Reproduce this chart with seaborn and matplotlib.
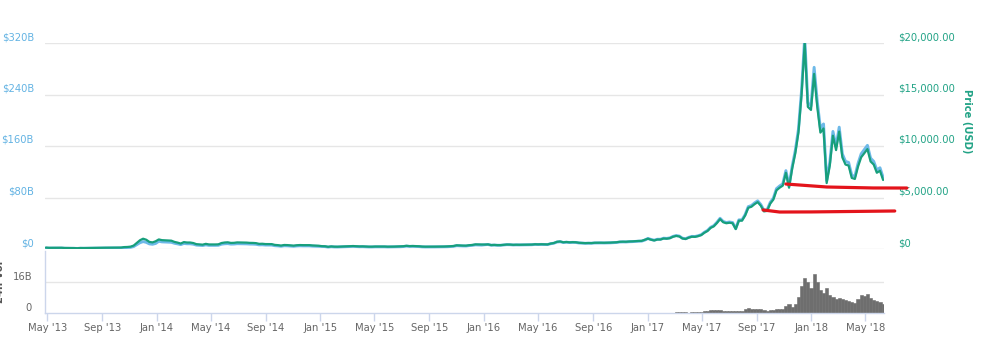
import numpy as np
import pandas as pd
import matplotlib
matplotlib.use("Agg")
import matplotlib.pyplot as plt
import matplotlib.dates as mdates
from matplotlib.transforms import ScaledTranslation, blended_transform_factory
import seaborn as sns

# ---------------- data (weekly, starting 2013-04-28) ----------------
start_date = "2013-04-28"

price_2013 = [135, 115, 117, 123, 131, 120, 100, 100, 102, 90, 75, 97, 92, 98,
              105, 106, 119, 125, 127, 126, 128, 125, 133, 127, 140, 186, 198,
              225, 335, 590, 850, 1000, 900, 690, 640, 750]
price_2014 = [930, 860, 840, 820, 810, 690, 620, 530, 670, 630, 630, 580, 470,
              450, 420, 500, 440, 435, 440, 450, 580, 630, 650, 590, 600, 640,
              635, 620, 620, 595, 590, 570, 500, 510, 480, 480, 475, 400, 375,
              330, 390, 380, 355, 325, 365, 385, 375, 380, 375, 345, 330, 315]
price_2015 = [275, 265, 210, 250, 225, 220, 235, 240, 260, 275, 285, 265, 250,
              255, 235, 225, 225, 240, 242, 235, 240, 225, 228, 232, 245, 250,
              270, 310, 280, 290, 280, 265, 235, 225, 230, 240, 230, 232, 235,
              240, 250, 270, 290, 360, 340, 330, 325, 370, 395, 450, 440, 425]
price_2016 = [430, 450, 380, 395, 375, 375, 405, 435, 430, 405, 415, 410, 420,
              420, 420, 430, 460, 450, 460, 455, 445, 530, 580, 700, 730, 650,
              680, 650, 665, 655, 605, 590, 570, 580, 575, 605, 610, 610, 605,
              612, 620, 640, 655, 700, 710, 705, 730, 740, 765, 780, 790, 895]
price_2017 = [1000, 900, 830, 920, 920, 1020, 1000, 1050, 1190, 1270, 1220,
              1020, 970, 1100, 1190, 1180, 1250, 1350, 1580, 1750, 2050, 2200,
              2520, 2900, 2600, 2500, 2550, 2500, 1930, 2750, 2750, 3250, 4000,
              4100, 4350, 4550, 4200, 3650, 3700, 4400, 4800, 5700, 5950, 6150,
              7400, 5950, 7800, 9300, 11300, 15000, 20000, 13800, 13500]
price_2018 = [17000, 13800, 11300, 11700, 6400, 8100, 11000, 9600, 11400, 8900,
              8200, 8100, 6900, 6800, 8000, 8900, 9300, 9700, 8500, 8200, 7400,
              7600, 6700]

# circulating supply (millions of coins) by calendar year
supply_years = [2013, 2014, 2015, 2016, 2017, 2018]
supply_millions = [11.5, 12.9, 14.3, 15.5, 16.45, 16.6]

# 24h volume, billions USD
volume_2013 = [0, 0, 0, 0, 0, 0, 0, 0, 0, 0, 0, 0, 0, 0, 0, 0, 0, 0, 0, 0, 0,
               0, 0, 0, 0, 0, 0, 0, 0, 0, 0, 0, 0, 0, 0, 0.03]
volume_2014 = [0.06, 0.05, 0.04, 0.04, 0.04, 0.05, 0.06, 0.05, 0.04, 0.03,
               0.03, 0.03, 0.04, 0.04, 0.05, 0.04, 0.03, 0.02, 0.02, 0.02,
               0.04, 0.05, 0.03, 0.02, 0.02, 0.02, 0.02, 0.02, 0.02, 0.02,
               0.02, 0.02, 0.03, 0.02, 0.02, 0.02, 0.02, 0.03, 0.03, 0.04,
               0.03, 0.02, 0.02, 0.02, 0.03, 0.02, 0.02, 0.02, 0.02, 0.02,
               0.02, 0.02]
volume_2015 = [0.03, 0.04, 0.05, 0.04, 0.02, 0.02, 0.02, 0.02, 0.03, 0.03,
               0.02, 0.02, 0.02, 0.02, 0.02, 0.02, 0.02, 0.02, 0.02, 0.01,
               0.01, 0.01, 0.01, 0.02, 0.02, 0.02, 0.03, 0.04, 0.03, 0.02,
               0.02, 0.02, 0.04, 0.03, 0.02, 0.02, 0.02, 0.02, 0.02, 0.02,
               0.03, 0.04, 0.05, 0.12, 0.07, 0.05, 0.04, 0.05, 0.06, 0.08,
               0.06, 0.04]
volume_2016 = [0.05, 0.06, 0.08, 0.06, 0.05, 0.05, 0.06, 0.07, 0.06, 0.06,
               0.05, 0.05, 0.05, 0.05, 0.05, 0.05, 0.06, 0.06, 0.06, 0.05,
               0.06, 0.09, 0.12, 0.18, 0.20, 0.12, 0.10, 0.08, 0.07, 0.07,
               0.10, 0.08, 0.07, 0.06, 0.06, 0.07, 0.07, 0.06, 0.06, 0.06,
               0.07, 0.07, 0.08, 0.10, 0.09, 0.08, 0.09, 0.09, 0.10, 0.10,
               0.10, 0.15]
volume_2017 = [0.20, 0.20, 0.12, 0.10, 0.10, 0.12, 0.13, 0.15, 0.20, 0.35,
               0.30, 0.40, 0.30, 0.25, 0.30, 0.30, 0.35, 0.45, 0.80, 1.00,
               1.40, 1.50, 1.30, 1.60, 1.20, 1.00, 0.90, 0.90, 0.90, 1.20,
               1.00, 1.80, 2.50, 2.20, 2.00, 2.20, 1.90, 1.60, 1.00, 1.30,
               1.50, 2.30, 2.00, 2.30, 3.50, 4.50, 3.00, 4.80, 8.00, 14.0,
               18.0, 16.0, 13.0]
volume_2018 = [20.0, 16.0, 12.0, 10.0, 13.0, 9.0, 8.0, 7.0, 7.5, 7.0, 6.5,
               6.0, 5.5, 5.0, 7.0, 9.0, 8.5, 9.5, 7.5, 6.5, 6.0, 5.5, 4.5]

# tick settings
cap_ticks = [0, 80, 160, 240, 320]                 # $B
price_ticks = [0, 5000, 10000, 15000, 20000]       # USD
volume_ticks = [0, 16]                             # $B
x_tick_dates = ["2013-05-01", "2013-09-01", "2014-01-01", "2014-05-01",
                "2014-09-01", "2015-01-01", "2015-05-01", "2015-09-01",
                "2016-01-01", "2016-05-01", "2016-09-01", "2017-01-01",
                "2017-05-01", "2017-09-01", "2018-01-01", "2018-05-01"]
x_tick_labels = ["May '13", "Sep '13", "Jan '14", "May '14", "Sep '14",
                 "Jan '15", "May '15", "Sep '15", "Jan '16", "May '16",
                 "Sep '16", "Jan '17", "May '17", "Sep '17", "Jan '18",
                 "May '18"]

# hand-drawn red annotation marks (date, price level)
red1_dates = ["2017-11-05", "2018-02-04", "2018-05-19", "2018-08-02"]
red1_levels = [6310, 6020, 5925, 5920]
red2_dates = ["2017-09-15", "2017-10-22", "2018-01-01", "2018-07-06"]
red2_levels = [3790, 3590, 3600, 3690]

# ---------------- build frame ----------------
price = price_2013 + price_2014 + price_2015 + price_2016 + price_2017 + price_2018
volume = volume_2013 + volume_2014 + volume_2015 + volume_2016 + volume_2017 + volume_2018
dates = pd.date_range(start_date, periods=len(price), freq="7D")
supply_map = dict(zip(supply_years, supply_millions))
df = pd.DataFrame({"date": dates, "price": price, "volume": volume})
df["cap"] = df["price"] * df["date"].dt.year.map(supply_map) / 1000.0  # $B

# ---------------- style ----------------
sns.set_theme(style="white")
plt.rcParams["font.family"] = ["DejaVu Sans"]

W, H = 981, 340
fig = plt.figure(figsize=(W / 100, H / 100), dpi=100)

x0, x1 = 45, 884
main_top, main_bot = 43, 249
vol_top, vol_bot = 250.5, 313

ax = fig.add_axes([x0 / W, 1 - main_bot / H, (x1 - x0) / W, (main_bot - main_top) / H])
axp = ax.twinx()
axv = fig.add_axes([x0 / W, 1 - vol_bot / H, (x1 - x0) / W, (vol_bot - vol_top) / H])

xmin, xmax = pd.Timestamp("2013-04-26"), pd.Timestamp("2018-06-12")

grid_c = "#e6e6e6"
axis_c = "#ccd6eb"
cap_c = "#6db9e8"
price_c = "#179f7c"
left_lab_c = "#63b3e3"
right_lab_c = "#22a386"
txt_c = "#666666"

# gridlines
for v in cap_ticks:
    ax.axhline(v, color=grid_c, lw=1, zorder=0)

sns.lineplot(data=df, x="date", y="cap", ax=ax, color=cap_c, lw=2.1, zorder=2)
sns.lineplot(data=df, x="date", y="price", ax=axp, color=price_c, lw=1.6, zorder=3)

ax.set_ylim(0, cap_ticks[-1])
axp.set_ylim(0, price_ticks[-1])
for a in (ax, axp):
    a.set_xlim(xmin, xmax)
    a.set_xticks([])
    a.set_yticks([])
    a.set_xlabel("")
    a.set_ylabel("")
    for s in a.spines.values():
        s.set_visible(False)
    a.patch.set_alpha(0)
ax.set_zorder(1)
axp.set_zorder(2)

fs = 7.2
# left (market cap) labels
ltr = blended_transform_factory(ax.transAxes, ax.transData) + \
    ScaledTranslation(-11 / 100, 6 / 100, fig.dpi_scale_trans)
for v in cap_ticks:
    ax.text(0, v, f"${v}B" if v else "$0", transform=ltr, ha="right", va="center",
            fontsize=fs, color=left_lab_c)
# right (price) labels
rtr = blended_transform_factory(axp.transAxes, axp.transData) + \
    ScaledTranslation(14 / 100, 6 / 100, fig.dpi_scale_trans)
for v in price_ticks:
    axp.text(1, v, f"${v:,.2f}" if v else "$0", transform=rtr, ha="left", va="center",
             fontsize=fs, color=right_lab_c)
fig.text(967 / W, 1 - 121 / H, "Price (USD)", rotation=270, ha="center", va="center",
         fontsize=fs, color=right_lab_c, fontweight="bold")

# red annotation lines
axp.plot(pd.to_datetime(red1_dates), red1_levels, color="#e3141b", lw=2.3,
         clip_on=False, zorder=5, solid_capstyle="round")
axp.plot(pd.to_datetime(red2_dates), red2_levels, color="#e3141b", lw=2.3,
         clip_on=False, zorder=5, solid_capstyle="round")

# ---------------- volume panel ----------------
axv.axhline(volume_ticks[1], color=grid_c, lw=1, zorder=0)
axv.bar(df["date"], df["volume"], width=7, color="#6e6e6e", edgecolor="#6e6e6e",
        linewidth=0.4, align="center")
axv.set_xlim(xmin, xmax)
axv.set_ylim(0, 32)
axv.set_yticks([])
axv.set_ylabel("")
axv.patch.set_alpha(0)
for side in ("top", "right"):
    axv.spines[side].set_visible(False)
for side in ("left", "bottom"):
    axv.spines[side].set_color(axis_c)
    axv.spines[side].set_linewidth(1)
axv.set_xticks(pd.to_datetime(x_tick_dates))
axv.set_xticklabels(x_tick_labels)
axv.tick_params(axis="x", direction="out", length=6, width=1, color=axis_c,
                labelcolor=txt_c, labelsize=fs, pad=1.0, bottom=True)

vtr = blended_transform_factory(axv.transAxes, axv.transData) + \
    ScaledTranslation(-13 / 100, 5 / 100, fig.dpi_scale_trans)
for v in volume_ticks:
    axv.text(0, v, f"{v}B" if v else "0", transform=vtr, ha="right", va="center",
             fontsize=fs, color=txt_c)
fig.text(0 / W, 1 - 282 / H, "24h Vol", rotation=90, ha="center", va="center",
         fontsize=fs, color="#555555", fontweight="bold")

fig.savefig("out.png", dpi=100)
